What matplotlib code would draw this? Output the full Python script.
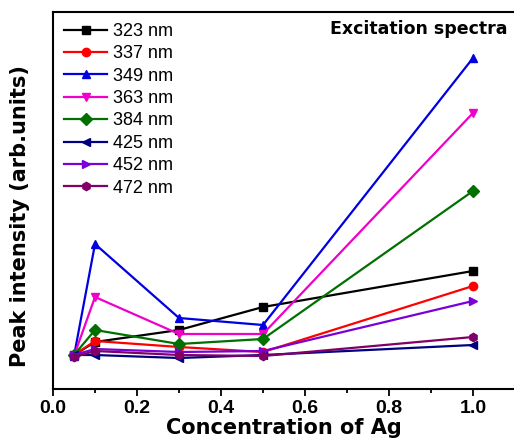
import matplotlib.pyplot as plt

plt.rcParams['font.family'] = ['Liberation Sans', 'DejaVu Sans']

# ============================================================
# data
# ============================================================
conc = [0.05, 0.1, 0.3, 0.5, 1.0]

labels = ["323 nm", "337 nm", "349 nm", "363 nm",
          "384 nm", "425 nm", "452 nm", "472 nm"]

I_323 = [34, 47, 59, 82, 118]
I_337 = [34, 48, 42, 37, 103]
I_349 = [33, 145, 71, 64, 331]
I_363 = [33, 92, 55, 55, 276]
I_384 = [34, 59, 45, 50, 198]
I_425 = [34, 34, 31, 34, 44]
I_452 = [34, 40, 37, 38, 88]
I_472 = [32, 38, 34, 33, 52]

series = [I_323, I_337, I_349, I_363, I_384, I_425, I_452, I_472]

colors = ["#000000", "#FF0000", "#0000E0", "#F000C8",
          "#007000", "#000080", "#7A00D8", "#800068"]
markers = ["s", "o", "^", "v", "D", "<", ">", "h"]

# ============================================================
# plot
# ============================================================
fig = plt.figure(figsize=(5.14, 4.41), dpi=100)
ax = fig.add_axes([53/514, 52/441, 462/514, 377/441])

for y, c, m, lab in zip(series, colors, markers, labels):
    ax.plot(conc, y, color=c, marker=m, markersize=6,
            linewidth=1.6, label=lab)

ax.set_xlim(0, 1.08)
ax.set_ylim(0, 377)

ax.set_xticks([0.0, 0.2, 0.4, 0.6, 0.8, 1.0])
ax.set_xticks([0.1, 0.3, 0.5, 0.7, 0.9, 1.1], minor=True)
ax.set_yticks([])
ax.tick_params(axis='x', which='major', direction='out', length=5,
               width=1.3, labelsize=14, pad=3)
ax.tick_params(axis='x', which='minor', direction='out', length=3, width=1.3)
for lbl in ax.get_xticklabels():
    lbl.set_fontweight('bold')

for s in ['left', 'top', 'bottom']:
    ax.spines[s].set_linewidth(1.5)
ax.spines['right'].set_visible(False)

# axis titles (wide bold face)
ax.set_xlabel("Concentration of Ag", fontsize=15, fontweight='bold',
              family='DejaVu Sans', labelpad=1)
fig.text(20/514, 1 - 216/441, "Peak intensity (arb.units)", rotation=90,
         ha='center', va='center', fontsize=15, fontweight='bold',
         family='DejaVu Sans')

fig.text(508/514, 1 - 29/441, "Excitation spectra", ha='right', va='center',
         fontsize=12.5, fontweight='bold', family='DejaVu Sans')

ax.legend(loc='upper left', frameon=False, fontsize=13,
          handlelength=2.4, handletextpad=0.3, labelspacing=0.3,
          borderaxespad=0.2, markerscale=1.0)

fig.savefig("out.png", dpi=100)
